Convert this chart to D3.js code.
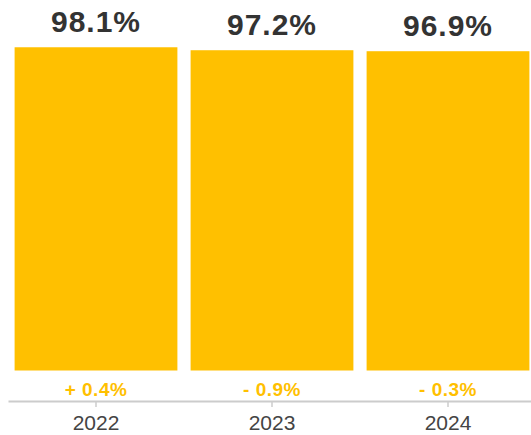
<!DOCTYPE html>
<html>
<head>
<meta charset="utf-8">
<script src="https://cdn.jsdelivr.net/npm/d3@7"></script>
<style>
  html, body { margin: 0; padding: 0; background: #fff; }
  svg { display: block; font-family: "Liberation Sans", Arial, Helvetica, sans-serif; }
</style>
</head>
<body>
<svg id="chart" width="531" height="435"></svg>
<script>
// Yearly rate and the change from the previous year
const years = ["2022", "2023", "2024"];
const rates = [98.1, 97.2, 96.9];
const changes = [0.4, -0.9, -0.3];

const width = 531, height = 435;
const baseY = 370.5, axisY = 401;

const svg = d3.select("#chart");

const x = d3.scaleBand()
  .domain(years)
  .range([8, 536])
  .paddingInner(0.075)
  .paddingOuter(0.0375);

const y = d3.scaleLinear()
  .domain([0, 100])
  .range([baseY, 41]);

const gold = "#FFC000";

// Bars
svg.append("g")
  .selectAll("rect")
  .data(years)
  .join("rect")
  .attr("x", d => x(d))
  .attr("width", x.bandwidth())
  .attr("y", (d, i) => y(rates[i]))
  .attr("height", (d, i) => baseY - y(rates[i]))
  .attr("fill", gold);

// Value labels above the bars
svg.append("g")
  .selectAll("text")
  .data(years)
  .join("text")
  .attr("x", d => x(d) + x.bandwidth() / 2)
  .attr("y", (d, i) => y(rates[i]) - 15)
  .attr("text-anchor", "middle")
  .attr("font-size", 30)
  .attr("letter-spacing", 1)
  .attr("font-weight", "bold")
  .attr("fill", "#333")
  .text((d, i) => rates[i].toFixed(1) + "%");

// Year-on-year change under the bars
const fmtChange = v => (v >= 0 ? "+ " : "- ") + Math.abs(v).toFixed(1) + "%";
svg.append("g")
  .selectAll("text")
  .data(years)
  .join("text")
  .attr("x", d => x(d) + x.bandwidth() / 2)
  .attr("y", 395.5)
  .attr("text-anchor", "middle")
  .attr("font-size", 19)
  .attr("letter-spacing", 0.5)
  .attr("font-weight", "bold")
  .attr("fill", gold)
  .text((d, i) => fmtChange(changes[i]));

// Category axis
const axis = svg.append("g")
  .attr("transform", `translate(0,${axisY})`)
  .call(d3.axisBottom(x).tickSize(6).tickSizeOuter(0).tickPadding(8));

axis.select(".domain").attr("stroke", "#ccc").attr("stroke-width", 2);
axis.selectAll(".tick line").attr("stroke", "#ccc").attr("stroke-width", 1.5);
axis.selectAll(".tick text")
  .attr("font-size", 21)
  .attr("fill", "#444")
  .attr("font-family", "Liberation Sans, Arial, sans-serif");
</script>
</body>
</html>
